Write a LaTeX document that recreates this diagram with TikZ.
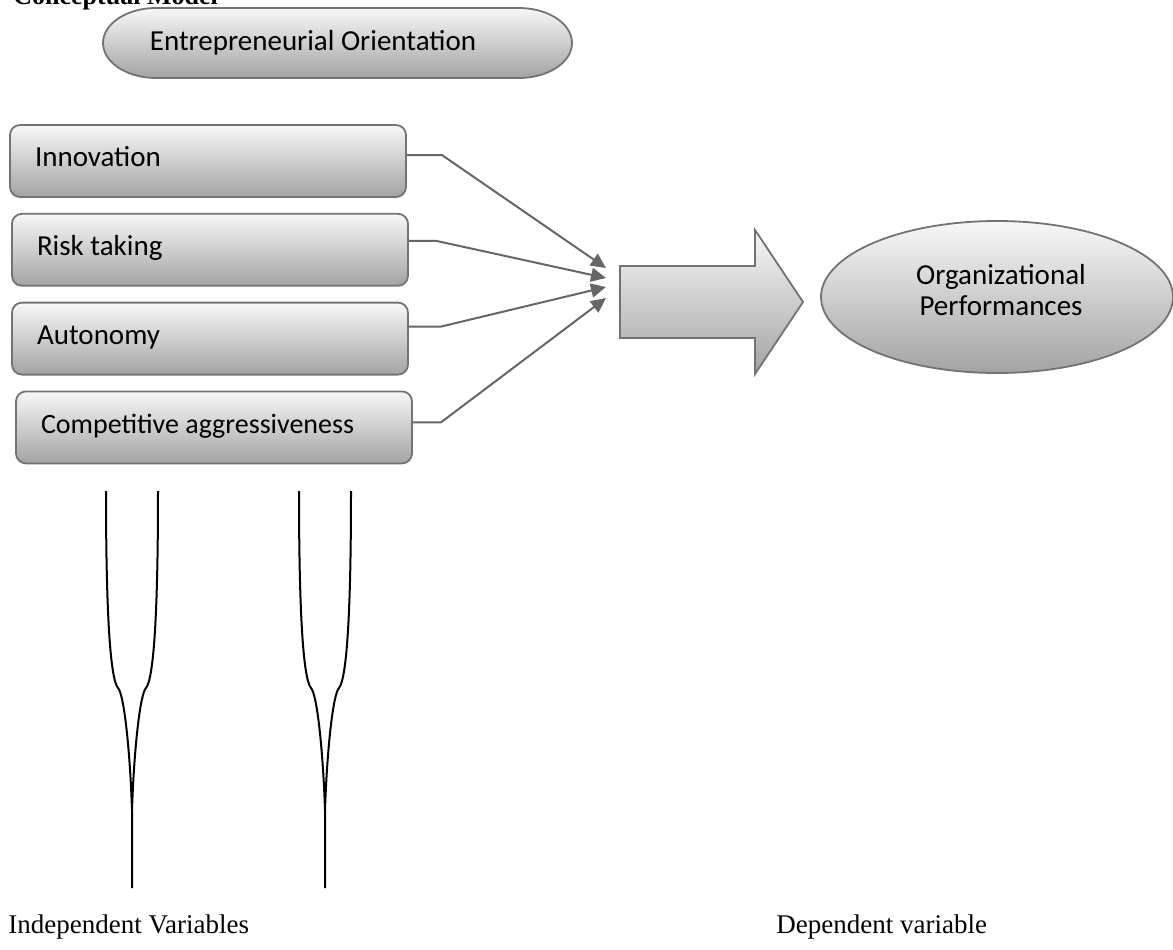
\documentclass[tikz,border=0pt]{standalone}
\usepackage{fontspec}
\setmainfont{Carlito}
\newfontfamily\serifrm{Liberation Serif}
\usetikzlibrary{shapes.geometric, arrows.meta, positioning}

\begin{document}
\begin{tikzpicture}[
		x=0.5pt, y=-0.5pt,
		shadefill/.style={
				draw=black!55,
				line width=0.9pt,
				top color=white!97!black,
				bottom color=black!36
			},
		dimbox/.style={
				shadefill,
				rounded corners=5pt,
				minimum width=198pt,
				minimum height=36pt,
				text width=173pt,
				inner xsep=12.5pt,
				align=flush left,
				text height=1.5ex, % Height above the baseline
				text depth=0.25ex, % Depth below the baseline
				font=\fontsize{14.5}{17}\selectfont
			},
		feed/.style={draw=black!60, line width=1pt, -{Triangle[length=7.5pt, width=7pt]}},
		fork/.style={draw=black, line width=1pt},
		caption/.style={anchor=base west, inner sep=0pt, font=\serifrm\fontsize{13.5}{15}\selectfont}
	]
	\useasboundingbox (0,0) rectangle (1173,949);

	\node[caption, font=\serifrm\bfseries\fontsize{13}{15}\selectfont] (title) at (13,4) {Conceptual Model};

	% construct on top
	\shade[shadefill] (156,8) -- (519,8) arc[start angle=-90, end angle=90, x radius=53, y radius=35]
	-- (156,78) arc[start angle=90, end angle=270, x radius=53, y radius=35] -- cycle;
	\node[font=\fontsize{14.5}{17}\selectfont] (eotext) at (313,43) {Entrepreneurial Orientation};

	% dimensions
	\node[dimbox] (innov) at (208,161) {Innovation};
	\node[dimbox, below=7.5pt of innov, xshift=1pt] (risk) {Risk taking};
	\node[dimbox, below=7.5pt of risk] (auton) {Autonomy};
	\node[dimbox, below=7.5pt of auton, xshift=2pt, font=\fontsize{14}{16}\selectfont] (compet) {Competitive aggressiveness};

	% block arrow
	\shade[shadefill] (620,266) -- (755,266) -- (755,230) -- (803,302) -- (755,374) -- (755,338) -- (620,338) -- cycle;
	\coordinate (bigarrow) at (620,302);

	\node[shadefill, ellipse, minimum width=176pt, minimum height=76pt] (orgperf) at (997,297) {};
	\node[align=center, font=\fontsize{14.5}{15.5}\selectfont] (orgtext) at (1001,290) {Organizational\\Performances};

	\draw[feed] ([yshift=3pt]innov.east) -- ++(35,0) -- ([xshift=-7pt, yshift=17pt]bigarrow);
	\draw[feed] ([yshift=4.5pt]risk.east) -- ++(27,0) -- ([xshift=-7pt, yshift=12pt]bigarrow);
	\draw[feed] ([yshift=6pt]auton.east) -- ++(32,0) -- ([xshift=-7pt, yshift=7.5pt]bigarrow);
	\draw[feed] ([yshift=2.5pt]compet.east) -- ++(28,0) -- ([xshift=-7pt, yshift=2pt]bigarrow);

	% the two forks
	\foreach \c in {132,325} {
			\draw[fork] (\c-26,491) .. controls (\c-26,610) and (\c-22,678) .. (\c-14,688)
			.. controls (\c-8,694) and (\c-2,750) .. (\c,810) -- (\c,888);
			\draw[fork] (\c+26,491) .. controls (\c+26,610) and (\c+22,678) .. (\c+14,688)
			.. controls (\c+8,694) and (\c+2,750) .. (\c,810);
		}

	\node[caption] (indep) at (8,933) {Independent Variables};
	\node[caption] (dep) at (776,933) {Dependent variable};
\end{tikzpicture}
\end{document}
